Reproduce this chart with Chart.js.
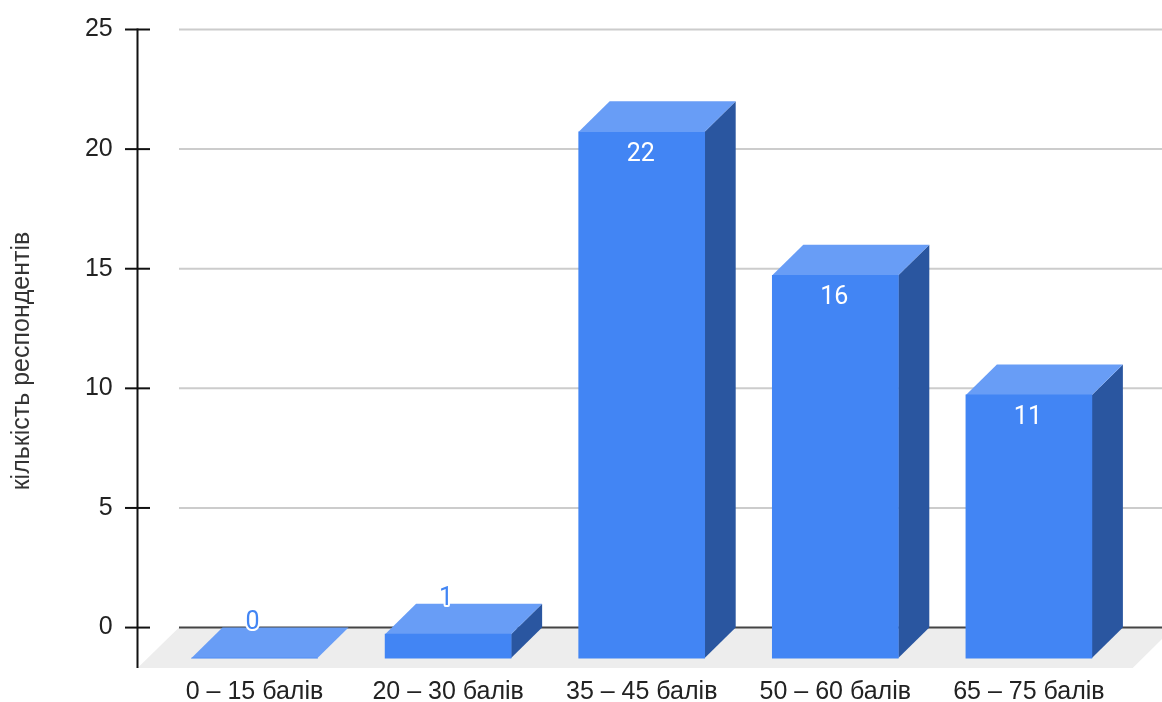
<!DOCTYPE html>
<html>
<head>
<meta charset="utf-8">
<title>кількість респондентів</title>
<script src="https://cdn.jsdelivr.net/npm/chart.js@4"></script>
<style>
  html, body { margin: 0; padding: 0; background: #ffffff; }
  canvas { display: block; }
</style>
</head>
<body>
<canvas id="myChart" width="1162" height="702"></canvas>
<script>
const categories = ["0 – 15 балів", "20 – 30 балів", "35 – 45 балів", "50 – 60 балів", "65 – 75 балів"];
const respondents = [0, 1, 22, 16, 11];
const yTicks = [0, 5, 10, 15, 20, 25];
const yTitle = "кількість респондентів";

// how far the front of a box sits from its back plane
const depthX = 31;
const depthY = 30.5;

const FRONT = "#4285f4";
const TOP = "#689df6";
const SIDE = "#2a56a0";

function poly(ctx, color, pts) {
  ctx.fillStyle = color;
  ctx.beginPath();
  pts.forEach((p, i) => i ? ctx.lineTo(p[0], p[1]) : ctx.moveTo(p[0], p[1]));
  ctx.closePath();
  ctx.fill();
}

function hline(ctx, color, width, x0, x1, y) {
  ctx.strokeStyle = color;
  ctx.lineWidth = width;
  ctx.beginPath();
  ctx.moveTo(x0, y);
  ctx.lineTo(x1, y);
  ctx.stroke();
}

const boxes3d = {
  id: "boxes3d",

  // floor, grid and the y axis go under the bars
  beforeDatasetsDraw(chart) {
    const ctx = chart.ctx;
    const y = chart.scales.y;
    const area = chart.chartArea;
    const zero = y.getPixelForValue(0);
    const axisX = 137.5;
    const gridX = 179;
    ctx.save();

    poly(ctx, "#ededed", [
      [gridX, zero],
      [area.right + 48, zero],
      [area.right + 7, area.bottom],
      [axisX, area.bottom]
    ]);

    yTicks.forEach(t => {
      if (t !== 0) hline(ctx, "#cccccc", 2, gridX, chart.width, y.getPixelForValue(t));
    });
    hline(ctx, "#444444", 2, gridX, chart.width, zero);

    ctx.strokeStyle = "#111111";
    ctx.lineWidth = 2;
    ctx.beginPath();
    ctx.moveTo(axisX, area.top - 1);
    ctx.lineTo(axisX, area.bottom);
    ctx.stroke();
    yTicks.forEach(t => hline(ctx, "#111111", 2, 125, 150, y.getPixelForValue(t)));

    ctx.translate(22, 361);
    ctx.rotate(-Math.PI / 2);
    ctx.fillStyle = "#333333";
    ctx.font = "25px 'Liberation Sans'";
    ctx.textAlign = "center";
    ctx.textBaseline = "middle";
    ctx.fillText(yTitle, 0, 0);
    ctx.restore();
  },

  // top and side faces, then push the real bars forward to become the front faces
  beforeDatasetDraw(chart, args) {
    const ctx = chart.ctx;
    args.meta.data.forEach(bar => {
      const p = bar.getProps(["x", "y", "base", "width"], true);
      const x0 = p.x - p.width / 2;
      const x1 = p.x + p.width / 2;
      const yTop = p.y + depthY;
      const yBase = p.base + depthY;
      poly(ctx, SIDE, [
        [x1, yTop],
        [x1 + depthX, yTop - depthY],
        [x1 + depthX, yBase - depthY],
        [x1, yBase]
      ]);
      poly(ctx, TOP, [
        [x0, yTop],
        [x1, yTop],
        [x1 + depthX, yTop - depthY],
        [x0 + depthX, yTop - depthY]
      ]);
    });
    ctx.save();
    ctx.translate(0, depthY);
  },

  afterDatasetDraw(chart) {
    chart.ctx.restore();
  },

  // value labels: white inside tall bars, blue with a white halo above short ones
  afterDatasetsDraw(chart) {
    const ctx = chart.ctx;
    const meta = chart.getDatasetMeta(0);
    ctx.save();
    ctx.font = "25px Roboto";
    ctx.textAlign = "center";
    ctx.textBaseline = "middle";
    ctx.lineJoin = "round";
    meta.data.forEach((bar, i) => {
      const p = bar.getProps(["x", "y"], true);
      const yFront = p.y + depthY;
      const text = String(respondents[i]);
      if (respondents[i] < 5) {
        ctx.strokeStyle = "#ffffff";
        ctx.lineWidth = 4;
        ctx.strokeText(text, p.x - 2, yFront - 35.5);
        ctx.fillStyle = FRONT;
        ctx.fillText(text, p.x - 2, yFront - 35.5);
      } else {
        ctx.fillStyle = "#ffffff";
        ctx.fillText(text, p.x - 1, yFront + 22.5);
      }
    });
    ctx.restore();
  }
};

new Chart(document.getElementById("myChart").getContext("2d"), {
  type: "bar",
  data: {
    labels: categories,
    datasets: [{
      label: yTitle,
      data: respondents,
      backgroundColor: FRONT,
      borderWidth: 0,
      barThickness: 126,
      clip: false
    }]
  },
  options: {
    responsive: false,
    animation: false,
    layout: { padding: { top: 29.5, right: 36.3, bottom: 0, left: 0 } },
    plugins: { legend: { display: false }, tooltip: { enabled: false } },
    scales: {
      x: {
        grid: { display: false, drawTicks: false },
        border: { display: false },
        ticks: {
          color: "#222222",
          font: { family: "'Liberation Sans'", size: 25 },
          padding: 9,
          maxRotation: 0
        },
        afterFit(scale) {
          scale.height = 34;
          scale.paddingLeft = scale.paddingRight = 0;
          scale.paddingTop = scale.paddingBottom = 0;
        }
      },
      y: {
        min: -1.69,
        max: 25,
        grid: { display: false, drawTicks: false },
        border: { display: false },
        ticks: {
          color: "#222222",
          font: { family: "'Liberation Sans'", size: 25 },
          padding: 45
        },
        afterBuildTicks(scale) { scale.ticks = yTicks.map(v => ({ value: v })); },
        afterFit(scale) {
          scale.width = 157.7;
          scale.paddingTop = scale.paddingBottom = 0;
          scale.paddingLeft = scale.paddingRight = 0;
        }
      }
    }
  },
  plugins: [boxes3d]
});
</script>
</body>
</html>
